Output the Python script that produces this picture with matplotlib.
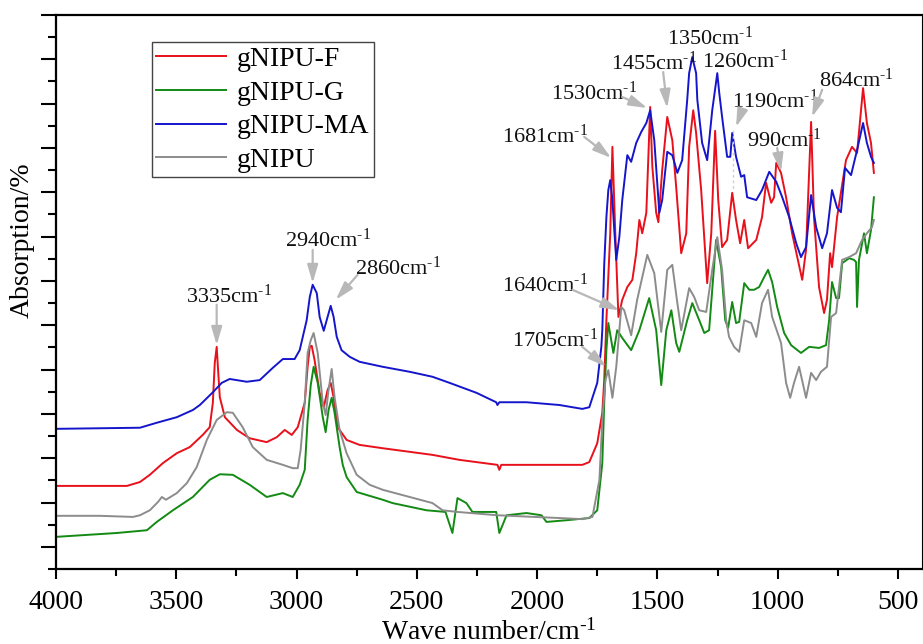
import matplotlib
matplotlib.use("Agg")
import matplotlib.pyplot as plt
from matplotlib.ticker import FixedLocator, NullFormatter

plt.rcParams['font.family'] = ['Liberation Serif', 'DejaVu Serif']
plt.rcParams['mathtext.fontset'] = 'custom'
plt.rcParams['mathtext.rm'] = 'Liberation Serif'
plt.rcParams['mathtext.it'] = 'Liberation Serif:italic'
plt.rcParams['mathtext.default'] = 'regular'

# ---------------- data ----------------
series_names = ["gNIPU-F", "gNIPU-G", "gNIPU-MA", "gNIPU"]
series_colors = ["#e8101a", "#138a13", "#1515cc", "#8c8c8c"]

wn_F = [4000, 3705, 3651, 3610, 3556, 3498, 3444, 3390, 3361, 3348, 3340, 3332, 3327, 3319, 3298, 3248,
        3195, 3124, 3082, 3049, 3020, 2995, 2966, 2954, 2945, 2937, 2925, 2904, 2887, 2871, 2858, 2846,
        2829, 2792, 2738, 2642, 2435, 2323, 2165, 2157, 2149, 1907, 1812, 1783, 1750, 1729, 1721, 1712,
        1696, 1687, 1675, 1662, 1646, 1625, 1604, 1588, 1575, 1563, 1546, 1530, 1521, 1505, 1496, 1480,
        1459, 1438, 1422, 1401, 1380, 1368, 1351, 1339, 1318, 1293, 1276, 1260, 1247, 1231, 1210, 1189,
        1173, 1156, 1139, 1123, 1089, 1065, 1048, 1027, 1015, 1006, 986, 965, 940, 898, 882, 861, 849,
        828, 807, 795, 782, 774, 753, 716, 691, 670, 645, 629, 612, 600]
ab_F = [15.0, 15.0, 15.7, 17.0, 19.1, 20.9, 22.0, 24.2, 25.6, 30.0, 37.2, 40.1, 36.5, 31.0, 27.4, 25.1,
        23.6, 22.9, 23.8, 25.1, 24.2, 25.6, 30.0, 36.5, 40.1, 40.3, 37.7, 31.8, 29.2, 32.3, 33.6, 31.0,
        25.6, 23.3, 22.4, 21.8, 20.6, 19.7, 18.8, 17.9, 18.8, 18.8, 18.8, 19.3, 22.7, 28.2, 34.1, 44.9,
        60.6, 76.2, 60.6, 45.5, 48.6, 50.9, 52.2, 57.0, 63.0, 60.6, 64.3, 83.4, 72.6, 64.3, 62.6, 72.0,
        81.6, 77.4, 69.0, 57.0, 60.6, 76.2, 82.8, 78.7, 68.4, 51.6, 60.6, 79.1, 66.6, 58.1, 59.4, 67.9,
        63.0, 58.8, 63.0, 57.9, 59.4, 63.5, 69.7, 66.1, 67.1, 73.3, 71.5, 67.1, 60.6, 52.2, 57.6, 80.7, 63.5,
        50.9, 46.2, 48.6, 57.0, 54.5, 63.5, 73.8, 76.2, 75.1, 86.8, 80.5, 76.9, 71.5]

wn_MA = [4000, 3651, 3581, 3498, 3431, 3402, 3348, 3311, 3278, 3207, 3153, 3099, 3057, 3008, 2987, 2958,
         2945, 2933, 2916, 2904, 2887, 2871, 2858, 2846, 2833, 2813, 2779, 2738, 2642, 2530, 2435, 2364,
         2252, 2170, 2165, 2157, 2044, 1907, 1812, 1783, 1750, 1733, 1729, 1721, 1712, 1704, 1696, 1687,
         1679, 1671, 1658, 1646, 1625, 1609, 1588, 1567, 1546, 1530, 1513, 1492, 1480, 1459, 1438, 1417,
         1397, 1376, 1368, 1355, 1339, 1334, 1314, 1293, 1272, 1251, 1243, 1231, 1210, 1197, 1189, 1173,
         1152, 1139, 1127, 1089, 1065, 1035, 1006, 981, 952, 923, 903, 882, 861, 840, 815, 795, 774, 753,
         737, 720, 695, 670, 645, 629, 612, 600]
ab_MA = [25.3, 25.5, 26.4, 27.4, 28.7, 29.6, 31.9, 33.6, 34.3, 33.8, 34.1, 36.3, 37.9, 37.9, 39.5, 44.9,
         49.1, 51.3, 49.8, 45.5, 43.0, 45.5, 47.5, 45.5, 41.9, 39.5, 38.3, 37.4, 36.5, 35.6, 34.7, 33.6,
         31.8, 30.1, 29.6, 30.1, 30.1, 29.6, 28.9, 29.2, 33.6, 40.1, 43.1, 55.0, 63.5, 68.4, 70.2, 66.6,
         61.0, 55.8, 60.0, 66.6, 74.7, 73.5, 76.9, 78.9, 80.5, 82.8, 77.4, 64.3, 66.6, 75.3, 74.7, 71.5,
         73.8, 84.7, 89.5, 92.4, 89.5, 84.7, 76.9, 73.8, 82.8, 89.5, 86.0, 81.6, 74.4, 74.4, 78.7, 74.4,
         70.8, 71.1, 67.1, 66.6, 68.4, 71.7, 69.9, 67.1, 63.5, 58.8, 56.3, 58.1, 67.5, 61.7, 57.9, 60.6, 68.4,
         65.2, 64.4, 72.4, 71.1, 75.6, 80.5, 76.9, 74.4, 73.3]

wn_N = [4000, 3817, 3680, 3651, 3610, 3576, 3560, 3543, 3498, 3456, 3415, 3373, 3332, 3290, 3265, 3224,
        3182, 3124, 3057, 3016, 2995, 2983, 2966, 2954, 2941, 2929, 2912, 2891, 2879, 2867, 2854, 2842,
        2821, 2792, 2750, 2696, 2642, 2530, 2435, 2393, 2331, 2165, 1907, 1812, 1770, 1741, 1729, 1716,
        1704, 1687, 1671, 1650, 1638, 1609, 1584, 1542, 1513, 1484, 1459, 1438, 1417, 1401, 1368, 1347,
        1326, 1297, 1272, 1251, 1231, 1214, 1202, 1181, 1160, 1139, 1110, 1089, 1065, 1040, 1023, 986,
        965, 948, 932, 911, 882, 861, 840, 820, 795, 778, 757, 732, 703, 674, 649, 629, 608, 600]
ab_N = [9.6, 9.6, 9.4, 9.7, 10.6, 12.1, 13.0, 12.5, 13.7, 15.5, 18.4, 23.3, 26.9, 28.3, 28.2, 25.6,
        22.0, 19.7, 18.8, 18.2, 18.2, 21.5, 30.0, 39.0, 41.3, 42.6, 39.0, 30.0, 27.8, 32.3, 36.1, 31.0,
        25.1, 20.9, 17.0, 15.2, 14.3, 13.0, 11.9, 10.6, 10.3, 9.7, 9.2, 9.0, 9.4, 16.1, 26.9, 34.1,
        35.9, 30.9, 36.5, 47.3, 46.7, 42.2, 48.6, 56.7, 53.4, 42.8, 54.0, 54.9, 48.0, 43.1, 50.7, 49.1,
        46.7, 46.4, 54.0, 59.9, 54.0, 44.9, 41.9, 40.1, 39.2, 44.9, 44.4, 41.9, 48.0, 50.4, 45.5, 40.8,
        33.6, 30.9, 33.6, 36.5, 30.9, 35.4, 34.1, 35.6, 36.5, 45.5, 46.2, 55.8, 56.3, 57.0, 59.4, 60.6,
        61.7, 63.0]

wn_G = [4000, 3747, 3622, 3581, 3514, 3431, 3361, 3319, 3265, 3195, 3124, 3057, 3016, 2987, 2966, 2954,
        2941, 2929, 2912, 2891, 2879, 2867, 2854, 2842, 2821, 2808, 2792, 2750, 2642, 2601, 2460, 2381,
        2352, 2331, 2294, 2269, 2170, 2157, 2127, 2044, 1982, 1961, 1878, 1783, 1750, 1729, 1721, 1712,
        1704, 1683, 1667, 1646, 1609, 1575, 1534, 1505, 1484, 1463, 1442, 1422, 1409, 1376, 1355, 1326,
        1305, 1285, 1256, 1235, 1218, 1206, 1189, 1173, 1160, 1139, 1118, 1098, 1077, 1056, 1040, 1023,
        1002, 973, 944, 903, 869, 828, 799, 786, 774, 757, 745, 732, 703, 683, 674, 670, 662, 641, 629,
        612, 600]
ab_G = [5.8, 6.5, 7.0, 8.5, 10.6, 13.0, 16.1, 17.1, 17.0, 15.2, 13.0, 13.7, 13.0, 15.2, 17.9, 26.9,
        33.2, 36.5, 33.6, 27.4, 24.7, 28.7, 30.9, 28.2, 22.0, 18.8, 16.6, 13.9, 12.5, 11.9, 10.6, 10.3,
        6.5, 12.8, 11.9, 10.3, 10.3, 6.5, 9.7, 10.1, 9.7, 8.5, 8.8, 9.2, 10.6, 19.1, 30.0, 39.5,
        44.4, 39.0, 43.1, 41.7, 39.5, 43.1, 48.9, 43.1, 33.2, 43.1, 46.7, 40.8, 39.2, 44.9, 48.0, 44.9,
        42.6, 43.1, 59.4, 54.5, 44.9, 43.5, 48.2, 44.4, 44.6, 51.6, 50.4, 50.4, 50.9, 52.7, 54.0, 51.8,
        47.3, 42.6, 40.4, 39.0, 40.1, 39.9, 40.4, 44.9, 51.8, 48.9, 48.9, 55.2, 56.1, 55.8, 55.4, 47.3,
        55.8, 60.6, 57.0, 61.2, 67.1]

x_ticks = [4000, 3500, 3000, 2500, 2000, 1500, 1000, 500]

# annotations: (label, text anchor (left, baseline), arrow tail, arrow tip)
peak_labels = ["3335", "2940", "2860", "1681", "1530", "1455", "1350", "1260", "1190", "990", "864", "1640", "1705"]
label_pos = [(3460, 48.0), (3049, 58.1), (2759, 53.1), (2144, 76.9), (1941, 84.7), (1691, 90.1),
             (1459, 94.6), (1314, 90.4), (1189, 83.2), (1127, 76.2), (828, 87.0), (2144, 50.0), (2103, 40.1)]
arrow_tail = [(3332, 47.7), (2933, 57.6), (2746, 53.1), (1804, 78.0), (1646, 85.2), (1476, 89.7),
              None, None, (1148, 82.8), (1002, 76.0), (815, 86.5), (1853, 50.4), (1812, 40.1)]
arrow_tip = [(3332, 40.4), (2933, 51.6), (2837, 48.6), (1692, 74.2), (1542, 83.2), (1459, 83.2),
             None, None, (1173, 79.8), (986, 71.7), (857, 81.6), (1658, 46.7), (1712, 36.5)]

# ---------------- figure ----------------
fig = plt.figure(figsize=(9.23, 6.44), dpi=100)
ax = fig.add_axes([56/923, 75/644, 866/923, 554/644])

xs = [wn_F, wn_G, wn_MA, wn_N]
ys = [ab_F, ab_G, ab_MA, ab_N]
for x, y, name, c in zip(xs, ys, series_names, series_colors):
    ax.plot(x, y, color=c, lw=1.4, label=name, solid_joinstyle="round")

# dashed guide under 1190 peak
ax.plot([1185, 1185], [79.2, 68.4], color="#cfcfcf", lw=1.0, ls=(0, (2, 2)))

arrow_style = "-|>,head_length=0.55,head_width=0.16"
for lab, pos, tail, tip in zip(peak_labels, label_pos, arrow_tail, arrow_tip):
    ax.text(pos[0], pos[1], lab + r"cm$^{\text{-1}}$", fontsize=16, ha="left", va="baseline", color="#111111")
    if tail is not None:
        ax.annotate("", xy=tip, xytext=tail,
                    arrowprops=dict(arrowstyle=arrow_style, color="#b8b8b8", lw=1.6,
                                    shrinkA=0, shrinkB=0, mutation_scale=20))

ax.set_xlim(4000, 400)
ax.set_ylim(0, 100)

ax.xaxis.set_major_locator(FixedLocator(x_ticks))
ax.xaxis.set_minor_locator(FixedLocator([3750, 3250, 2750, 2250, 1750, 1250, 750]))
ax.yaxis.set_major_locator(FixedLocator([4 + 8 * k for k in range(13)]))
ax.yaxis.set_minor_locator(FixedLocator([8 * k for k in range(13)]))
ax.yaxis.set_major_formatter(NullFormatter())
ax.tick_params(axis="x", which="major", direction="out", length=7, width=1.5, labelsize=20, pad=8,
               bottom=True, top=False)
ax.tick_params(axis="x", which="minor", direction="out", length=5, width=1.5, bottom=True, top=False)
ax.tick_params(axis="y", which="major", direction="out", length=11, width=1.5, left=True, right=False)
ax.tick_params(axis="y", which="minor", direction="out", length=6, width=1.5, left=True, right=False)

for s in ["left", "bottom", "top"]:
    ax.spines[s].set_linewidth(1.6)
ax.spines["right"].set_linewidth(0.8)

ax.set_xlabel(r"Wave number/cm$^{\text{-1}}$", fontsize=20, labelpad=3)
ax.set_ylabel("Absorption/%", fontsize=20)
ax.yaxis.set_label_coords(-0.025, 0.594)

leg = ax.legend(loc="upper left", bbox_to_anchor=(0.111, 0.951), borderaxespad=0, fontsize=20,
                frameon=True, fancybox=False, framealpha=1, edgecolor="#444444",
                handlelength=2.5, handletextpad=0.4, borderpad=0.15, labelspacing=0.3)
leg.get_frame().set_linewidth(1.0)

fig.savefig("out.png", dpi=100)
